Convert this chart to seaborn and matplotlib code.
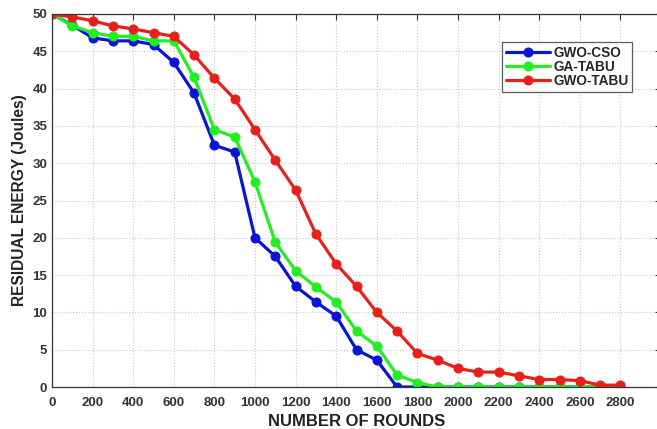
import matplotlib
matplotlib.use("Agg")
import matplotlib.pyplot as plt
import seaborn as sns

# 資料 (rounds vs residual energy)
rounds = [0, 100, 200, 300, 400, 500, 600, 700, 800, 900, 1000, 1100, 1200, 1300, 1400,
          1500, 1600, 1700, 1800, 1900, 2000, 2100, 2200, 2300, 2400, 2500, 2600, 2700, 2800]
gwo_cso = [50, 48.5, 46.8, 46.4, 46.4, 45.9, 43.5, 39.4, 32.4, 31.5, 20.0, 17.5, 13.5, 11.4, 9.5,
           5.0, 3.6, 0, 0, 0, 0, 0, 0, 0, 0, 0, 0, 0, 0]
ga_tabu = [50, 48.4, 47.5, 47.0, 47.0, 46.4, 46.4, 41.5, 34.5, 33.5, 27.5, 19.4, 15.6, 13.4, 11.4,
           7.5, 5.5, 1.6, 0.6, 0, 0, 0, 0, 0, 0, 0, 0, 0, 0]
gwo_tabu = [50, 49.6, 49.1, 48.4, 48.0, 47.5, 47.0, 44.5, 41.4, 38.6, 34.5, 30.4, 26.4, 20.5, 16.5,
            13.5, 10.0, 7.5, 4.5, 3.6, 2.5, 2.0, 2.0, 1.5, 1.0, 1.0, 0.85, 0.25, 0.25]
series_names = ["GWO-CSO", "GA-TABU", "GWO-TABU"]
series_colors = ["#0a14d4", "#22ee22", "#e8201c"]
x_ticks = [0, 200, 400, 600, 800, 1000, 1200, 1400, 1600, 1800, 2000, 2200, 2400, 2600, 2800]
y_ticks = [0, 5, 10, 15, 20, 25, 30, 35, 40, 45, 50]

sns.set_style("white")
plt.rcParams['font.family'] = ['Liberation Sans', 'DejaVu Sans']

fig = plt.figure(figsize=(6.57, 4.29), dpi=100)
ax = fig.add_axes([52 / 657, 42 / 429, 609 / 657, 373 / 429])

for name, vals, col in zip(series_names, [gwo_cso, ga_tabu, gwo_tabu], series_colors):
    sns.lineplot(x=rounds, y=vals, ax=ax, color=col, marker="o", markersize=6.5,
                 markeredgecolor=col, linewidth=2.3, label=name)

ax.set_xlim(0, 3000)
ax.set_ylim(0, 50)
ax.set_xticks(x_ticks)
ax.set_yticks(y_ticks)
ax.set_xticklabels([str(t) for t in x_ticks], fontweight="bold", fontsize=9.5, color="#333333")
ax.set_yticklabels([str(t) for t in y_ticks], fontweight="bold", fontsize=9.5, color="#333333")
ax.tick_params(direction="in", top=True, right=True, length=4, width=0.8, colors="#333333",
               labelcolor="#333333")
ax.tick_params(axis="x", pad=7)
ax.grid(True, linestyle=":", color="#c8c8c8", linewidth=0.8)
for s in ax.spines.values():
    s.set_color("#333333")
    s.set_linewidth(0.9)

ax.set_xlabel("NUMBER OF ROUNDS", fontweight="bold", fontsize=12, color="#222222", labelpad=4)
ax.set_ylabel("RESIDUAL ENERGY (Joules)", fontweight="bold", fontsize=11.2, color="#222222", labelpad=4)

leg = ax.legend(loc="upper left", bbox_to_anchor=((502 - 52) / 609, 1 - (42 - 14) / 373),
                prop={"weight": "bold", "size": 9.8}, frameon=True, fancybox=False,
                handlelength=3.2, borderpad=0.3, labelspacing=0.0, handletextpad=0.25,
                borderaxespad=0)
leg.get_frame().set_edgecolor("#333333")
leg.get_frame().set_linewidth(0.9)

fig.savefig("out.png", dpi=100)
